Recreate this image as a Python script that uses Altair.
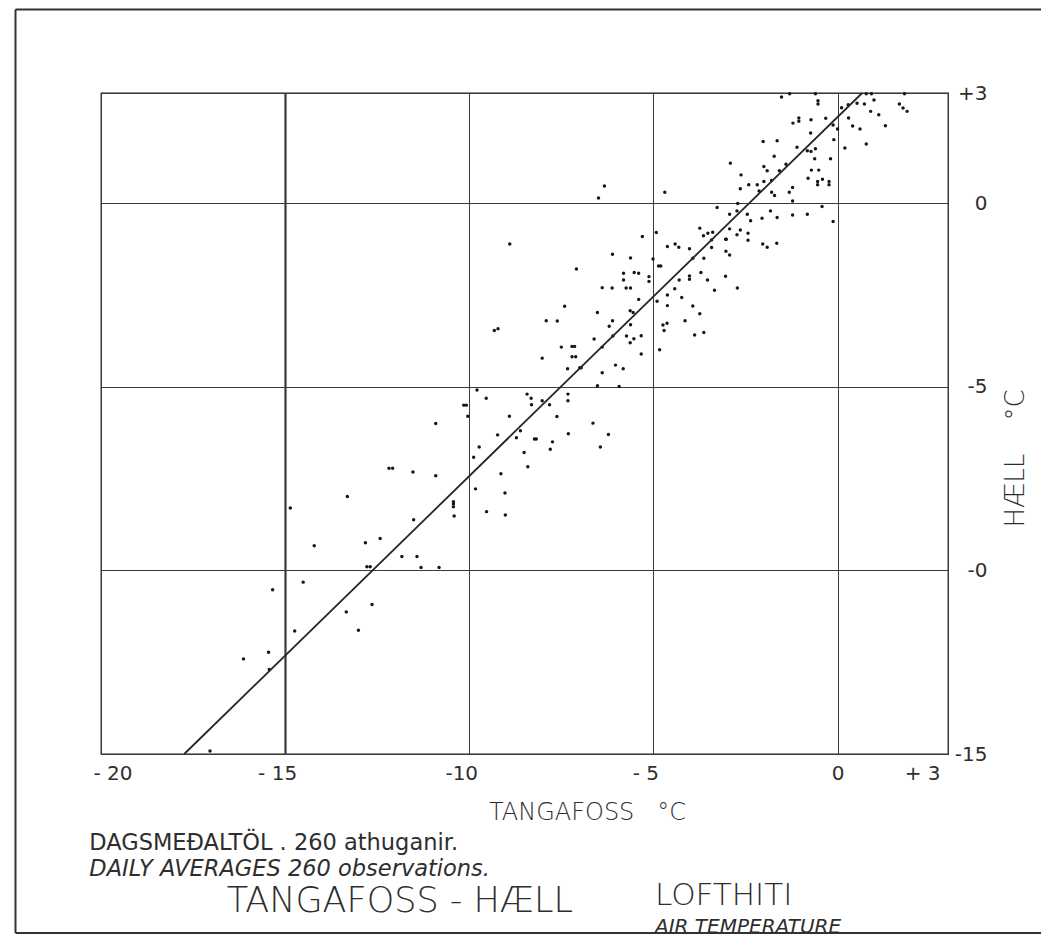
import altair as alt
import pandas as pd

# Daily averages: Tangafoss (x) vs Hæll (y), degrees C
tangafoss = [
    -14.21, -12.82, -11.83, -11.42, -11.31, -12.78, -12.69, -14.51, -15.34, -12.64,
    -13.34, -14.74, -13.01, -15.45, -16.13, -15.43, -17.04, -14.86,
    -9.79, -9.54, -10.15, -10.08, -10.04, -10.91, -8.43, -8.32, -8.31, -8.02,
    -7.82, -7.32, -7.32, -8.91, -7.62, -9.23, -8.72, -8.61, -8.23, -8.18,
    -7.74, -7.31, -9.73, -9.88, -8.51, -7.80, -12.18, -12.08, -11.53, -10.91,
    -9.14, -8.41, -13.31, -9.83, -9.03, -10.43, -10.43, -10.43, -10.41, -9.53,
    -9.02, -11.51, -12.42, -10.82,
    -8.90, -5.30, -4.92, -4.62, -4.41, -4.31, -6.11, -5.62, -7.09, -5.81,
    -5.52, -5.40, -5.81, -5.01, -4.86, -4.80, -5.12, -5.12, -6.39, -6.12,
    -5.74, -5.62, -4.30, -4.42, -4.62, -5.40, -4.90, -7.41, -4.62, -6.52,
    -5.63, -5.55, -7.91, -7.61, -6.11, -6.20, -5.62, -4.74, -4.63, -4.71,
    -9.32, -9.22, -6.61, -6.10, -5.73, -5.53, -5.33, -5.63, -7.50, -7.21,
    -7.14, -6.39, -4.83, -8.02, -7.21, -7.11, -5.33, -7.33, -7.00, -6.96,
    -6.03, -5.82, -6.39, -6.52, -5.93, -6.64, -6.22, -6.44, -6.33, -6.49,
    -4.69,
    -3.74, -2.93, -2.64, -3.64, -3.52, -3.39, -3.04, -3.02, -2.73, -2.43,
    -2.43, -2.03, -1.91, -1.65, -3.42, -4.02, -3.42, -3.03, -2.93, -3.63,
    -3.93, -4.02, -4.02, -3.71, -3.53, -3.34, -3.04, -2.72, -4.23, -3.93,
    -3.74, -4.14, -3.63, -3.88,
    -1.30, -0.60, 0.78, 0.92, 1.82, -1.52, -0.53, -0.53, 0.99, 0.29,
    0.53, 0.73, 0.11, 1.68, 1.78, 1.89, 0.90, 1.12, 1.30, 0.61,
    0.41, 0.30, 0.78, 0.20, 0.00, -0.12, -0.10, -1.05, -1.05, -1.21,
    -0.72, -0.32, -0.73, -1.64, -2.02, -1.10, -0.82, -0.72, -0.60, -1.72,
    -0.62, -0.19, -2.91, -2.00, -1.91, -1.58, -1.40, -0.71, -0.51, -0.80,
    -0.41, -0.54, -0.54, -0.23, -0.23, -2.62, -2.41, -2.64, -2.18, -2.13,
    -2.00, -1.79, -1.79, -1.71, -1.22, -1.31, -1.22, -0.42, -0.12, -3.27,
    -2.71, -2.93, -2.73, -2.45, -2.36, -2.05, -1.82, -1.64, -1.22, -0.82,
]
haell = [
    -9.33, -9.25, -9.62, -9.62, -9.92, -9.90, -9.90, -10.32, -10.53, -10.93,
    -11.13, -11.65, -11.63, -12.23, -12.41, -12.70, -14.92, -8.30,
    -5.09, -5.31, -5.50, -5.50, -5.80, -6.00, -5.20, -5.31, -5.49, -5.38,
    -5.49, -5.20, -5.38, -5.80, -5.81, -6.31, -6.39, -6.20, -6.42, -6.42,
    -6.50, -6.28, -6.64, -6.92, -6.79, -6.70, -7.22, -7.22, -7.32, -7.42,
    -7.37, -7.18, -7.99, -7.78, -7.89, -8.13, -8.19, -8.27, -8.52, -8.40,
    -8.49, -8.62, -9.13, -9.92,
    -1.11, -0.91, -0.80, -1.18, -1.11, -1.20, -1.39, -1.49, -1.79, -1.91,
    -1.89, -1.91, -2.09, -1.52, -1.71, -1.71, -2.00, -2.13, -2.30, -2.31,
    -2.31, -2.31, -2.09, -2.33, -2.50, -2.62, -2.67, -2.81, -2.79, -2.98,
    -2.93, -2.98, -3.20, -3.21, -3.20, -3.35, -3.31, -3.32, -3.27, -3.47,
    -3.47, -3.42, -3.70, -3.62, -3.62, -3.69, -3.61, -3.80, -3.92, -3.90,
    -3.90, -3.92, -3.99, -4.22, -4.18, -4.18, -4.11, -4.51, -4.48, -4.48,
    -4.41, -4.51, -4.62, -4.97, -4.99, -5.99, -6.30, -6.64, 0.47, 0.14,
    0.30,
    -0.68, -0.70, -0.73, -0.89, -0.82, -0.79, -0.98, -0.98, -0.86, -0.82,
    -1.01, -1.11, -1.20, -1.09, -1.00, -1.24, -1.21, -1.31, -1.41, -1.50,
    -1.50, -1.98, -2.07, -1.89, -2.09, -2.37, -1.99, -2.31, -2.57, -2.80,
    -3.01, -3.20, -3.52, -3.59,
    2.98, 2.98, 2.98, 2.98, 2.98, 2.89, 2.79, 2.70, 2.81, 2.68,
    2.72, 2.70, 2.60, 2.70, 2.59, 2.50, 2.50, 2.41, 2.11, 2.02,
    2.10, 2.32, 1.61, 1.50, 2.02, 2.13, 1.73, 2.32, 2.23, 2.18,
    2.27, 2.31, 1.91, 1.70, 1.68, 1.52, 1.43, 1.41, 1.48, 1.28,
    1.21, 1.21, 1.09, 1.00, 0.88, 0.88, 1.06, 0.90, 0.90, 0.68,
    0.65, 0.59, 0.50, 0.59, 0.50, 0.77, 0.50, 0.39, 0.50, 0.33,
    0.59, 0.62, 0.30, 0.21, 0.43, 0.30, 0.06, -0.09, -0.50, -0.12,
    -0.01, -0.30, -0.21, -0.30, -0.48, -0.41, -0.21, -0.39, -0.32, -0.30,
]

# Regression line end points
line_x = [-17.74, 0.67]
line_y = [-15.0, 3.0]

x_ticks = [-20, -15, -10, -5, 0, 3]
x_tick_labels = ["- 20", "- 15", "-10", "- 5", "0", "+ 3"]
y_ticks = [3, 0, -5, -10, -15]
y_tick_labels = ["+3", "0", "-5", "-0", "-15"]

x_title = "TANGAFOSS\u00a0\u00a0\u00a0°C"
y_title = "HÆLL\u00a0\u00a0\u00a0\u00a0°C"
note_is = "DAGSMEÐALTÖL . 260 athuganir."
note_en = "DAILY AVERAGES 260 observations."
main_title = "TANGAFOSS - HÆLL"
sub_is = "LOFTHITI"
sub_en = "AIR TEMPERATURE"

FONT = "DejaVu Sans"
INK = "#2e2e2e"
W, H = 847, 661


def label_expr(vals, labels):
    expr = "''"
    for v, l in reversed(list(zip(vals, labels))):
        expr = f"datum.value == {v} ? '{l}' : ({expr})"
    return expr


pts = pd.DataFrame({"x": tangafoss, "y": haell})
reg = pd.DataFrame({"x": line_x, "y": line_y})
one = pd.DataFrame({"d": [0]})

x_scale = alt.Scale(domain=[-20, 3], nice=False, zero=False)
y_scale = alt.Scale(domain=[-15, 3], nice=False, zero=False)

x_axis = alt.Axis(
    values=x_ticks, labelExpr=label_expr(x_ticks, x_tick_labels),
    domain=False, ticks=False, grid=True, gridColor="#3a3a3a",
    gridWidth={"condition": {"test": "datum.value === -15", "value": 2.2}, "value": 1},
    labelFont=FONT, labelFontSize=20, labelColor=INK, labelPadding=9,
    labelOverlap=False,
    labelOffset={"condition": {"test": "datum.value === 0", "value": 0}, "value": -8},
    title=x_title, titleFont=FONT, titleFontSize=24, titleFontWeight=300,
    titleColor=INK, titleX=486, titleY=65, titleAlign="center",
    titleBaseline="alphabetic",
)
y_axis = alt.Axis(
    orient="right", values=y_ticks, labelExpr=label_expr(y_ticks, y_tick_labels),
    domain=False, ticks=False, grid=True, gridColor="#3a3a3a", gridWidth=1,
    labelFont=FONT, labelFontSize=20, labelColor=INK, labelAlign="right",
    labelBaseline="middle", labelPadding=39, labelOverlap=False,
    title=y_title, titleFont=FONT, titleFontSize=26, titleFontWeight=300,
    titleColor=INK, titleAngle=270, titleX=67, titleY=365, titleAlign="center",
    titleBaseline="middle",
)

x_enc = alt.X("x:Q", scale=x_scale, axis=x_axis)
y_enc = alt.Y("y:Q", scale=y_scale, axis=y_axis)

points = alt.Chart(pts).mark_circle(size=12, color="#161616", opacity=1).encode(x=x_enc, y=y_enc)
line = alt.Chart(reg).mark_line(color="#262626", strokeWidth=1.8).encode(x=x_enc, y=y_enc)

frame_top = alt.Chart(one).mark_rule(color="#333", strokeWidth=2).encode(
    x=alt.value(-85.5), x2=alt.value(940), y=alt.value(-83.5))
frame_left = alt.Chart(one).mark_rule(color="#333", strokeWidth=2).encode(
    x=alt.value(-85.5), y=alt.value(-83.5), y2=alt.value(840))
frame_bottom = alt.Chart(one).mark_rule(color="#333", strokeWidth=2).encode(
    x=alt.value(-85.5), x2=alt.value(940), y=alt.value(840))


def txt(text, x, y, size, style="normal", weight="normal"):
    return alt.Chart(one).mark_text(
        text=text, align="left", baseline="alphabetic", font=FONT,
        fontSize=size, fontStyle=style, fontWeight=weight, color=INK,
    ).encode(x=alt.value(x), y=alt.value(y))


texts = [
    txt(note_is, -11.7, 757, 22.5),
    txt(note_en, -11.7, 782.7, 22.5, style="italic"),
    txt(main_title, 125.7, 818.7, 35, weight=300),
    txt(sub_is, 554, 812, 31, weight=300),
    txt(sub_en, 554, 839.5, 20, style="italic", weight=300),
]

chart = alt.layer(points, line, frame_top, frame_left, frame_bottom, *texts).properties(
    width=W, height=H,
    autosize=alt.AutoSizeParams(type="none"),
    padding={"left": 93, "top": 85, "right": 93, "bottom": 182},
    background="white",
).configure_view(stroke="#222", strokeWidth=1.3)

chart.save("out.html", embed_options={"renderer": "svg", "actions": False})
